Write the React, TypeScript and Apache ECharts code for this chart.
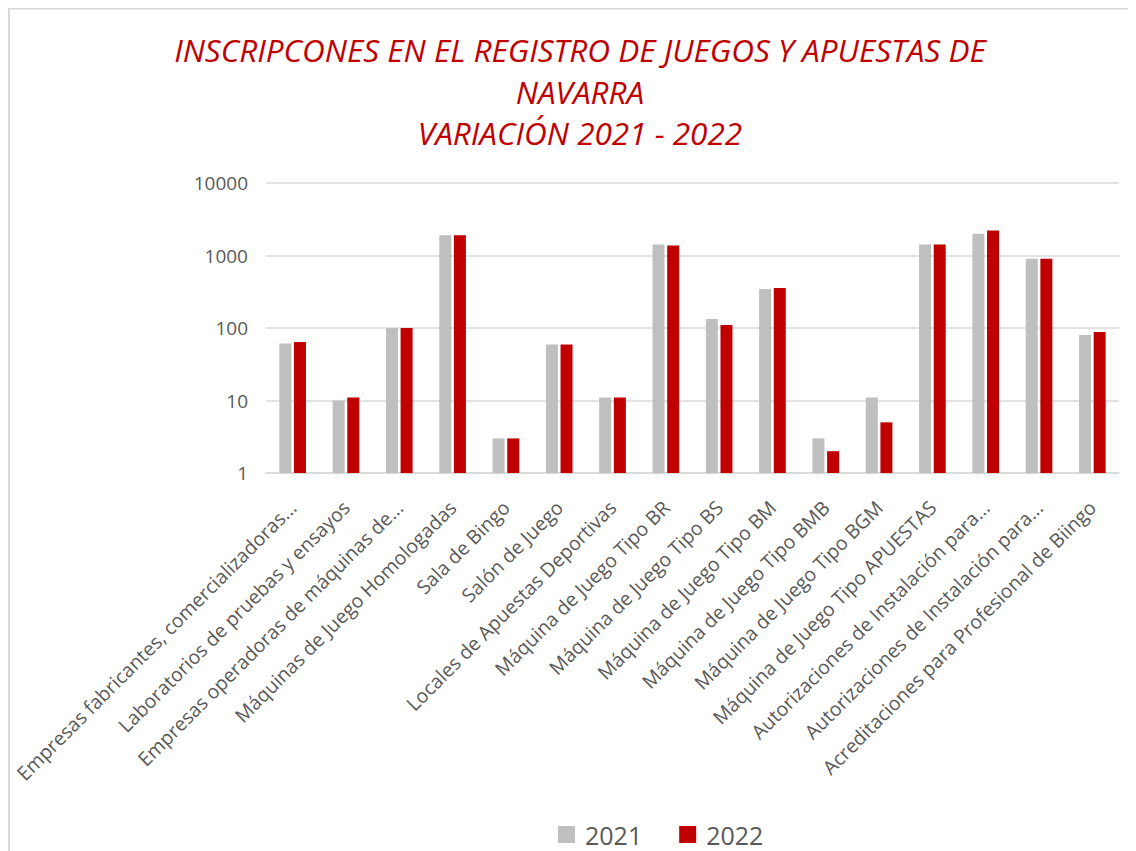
import React, { useEffect, useRef } from "react";
import * as echarts from "echarts";

const titleLines = [
  "INSCRIPCONES EN EL REGISTRO DE JUEGOS Y APUESTAS DE",
  "NAVARRA",
  "VARIACIÓN 2021 - 2022",
];

const categories = [
  "Empresas fabricantes, comercializadoras...",
  "Laboratorios de pruebas y ensayos",
  "Empresas operadoras de máquinas de...",
  "Máquinas de Juego Homologadas",
  "Sala de Bingo",
  "Salón de Juego",
  "Locales de Apuestas Deportivas",
  "Máquina de Juego Tipo BR",
  "Máquina de Juego Tipo BS",
  "Máquina de Juego Tipo BM",
  "Máquina de Juego Tipo BMB",
  "Máquina de Juego Tipo BGM",
  "Máquina de Juego Tipo APUESTAS",
  "Autorizaciones de Instalación para...",
  "Autorizaciones de Instalación para...",
  "Acreditaciones para Profesional de Biingo",
];

const seriesNames = ["2021", "2022"];
const values2021 = [61, 10, 100, 1900, 3, 59, 11, 1420, 133, 346, 3, 11, 1420, 2000, 900, 80];
const values2022 = [64, 11, 100, 1910, 3, 59, 11, 1370, 110, 357, 2, 5, 1420, 2220, 900, 88];

const GRAY = "#BFBFBF";
const RED = "#C00000";
const TEXT = "#595959";
const FONT = "'Open Sans', 'Noto Sans', sans-serif";

export default function App() {
  const ref = useRef<HTMLDivElement>(null);

  useEffect(() => {
    document.body.style.overflow = "hidden";
    if (!ref.current) return;
    const chart = echarts.init(ref.current, null, { renderer: "svg" });
    chart.setOption({
      animation: false,
      backgroundColor: "#ffffff",
      textStyle: { fontFamily: FONT },
      title: {
        text: titleLines.join("\n"),
        left: 567,
        textAlign: "center",
        top: 16,
        textStyle: {
          color: RED,
          fontStyle: "italic",
          fontWeight: "normal",
          fontSize: 31.5,
          lineHeight: 41.5,
          fontFamily: FONT,
        },
      },
      legend: {
        data: seriesNames,
        left: 550,
        top: 814,
        padding: 0,
        icon: "rect",
        itemWidth: 17,
        itemHeight: 17,
        itemGap: 37,
        textStyle: {
          color: TEXT,
          fontSize: 25,
          fontFamily: FONT,
          padding: [0, 0, 0, 5],
        },
      },
      graphic: [
        {
          type: "rect",
          shape: { x: 1, y: 0.5, width: 1400, height: 1100 },
          style: { fill: "none", stroke: "#D9D9D9", lineWidth: 2 },
          silent: true,
        },
      ],
      grid: {
        left: 258,
        right: 17,
        top: 175,
        bottom: 378,
        containLabel: false,
        outerBoundsMode: "none",
      },
      xAxis: {
        type: "category",
        data: categories,
        axisLine: { show: true, lineStyle: { color: "#D9D9D9", width: 1.5 } },
        axisTick: { show: false },
        axisLabel: {
          interval: 0,
          rotate: 45,
          margin: 31,
          color: TEXT,
          fontSize: 19.5,
          fontFamily: FONT,
        },
      },
      yAxis: {
        type: "log",
        logBase: 10,
        min: 1,
        max: 10000,
        axisLine: { show: false },
        axisTick: { show: false },
        splitLine: { show: true, lineStyle: { color: "#D9D9D9", width: 1.5 } },
        axisLabel: {
          color: TEXT,
          fontSize: 19,
          margin: 18,
          fontFamily: FONT,
          formatter: (v: number) => String(Math.round(v)),
        },
      },
      series: [
        {
          name: seriesNames[0],
          type: "bar",
          data: values2021,
          barWidth: 12,
          barGap: "22%",
          itemStyle: { color: GRAY },
        },
        {
          name: seriesNames[1],
          type: "bar",
          data: values2022,
          barWidth: 12,
          itemStyle: { color: RED },
        },
      ],
    });
    return () => chart.dispose();
  }, []);

  return <div ref={ref} style={{ width: 1128, height: 843 }} />;
}
